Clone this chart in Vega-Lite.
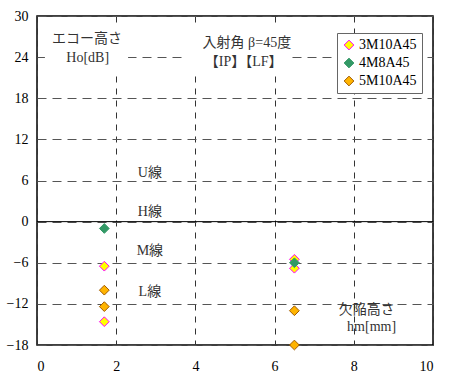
{
  "$schema": "https://vega.github.io/schema/vega-lite/v6.json",
  "autosize": {"type": "none"},
  "padding": {"left": 37, "top": 16, "right": 22, "bottom": 37},
  "width": 396,
  "height": 329,
  "background": "white",
  "config": {
    "view": {"stroke": "#000", "strokeWidth": 1.5},
    "font": "Liberation Serif, Noto Sans CJK JP",
    "axis": {
      "labelFont": "Liberation Serif",
      "labelFontSize": 14,
      "labelColor": "#000",
      "ticks": false,
      "domain": false,
      "title": null
    }
  },
  "datasets": {
    "points": [
      {"hm": 1.7, "ho": -6.5, "series": "3M10A45"},
      {"hm": 1.7, "ho": -14.6, "series": "3M10A45"},
      {"hm": 6.5, "ho": -5.5, "series": "3M10A45"},
      {"hm": 6.5, "ho": -6.8, "series": "3M10A45"},
      {"hm": 1.7, "ho": -1.0, "series": "4M8A45"},
      {"hm": 6.5, "ho": -6.0, "series": "4M8A45"},
      {"hm": 1.7, "ho": -10.0, "series": "5M10A45"},
      {"hm": 1.7, "ho": -12.4, "series": "5M10A45"},
      {"hm": 6.5, "ho": -13.0, "series": "5M10A45"},
      {"hm": 6.5, "ho": -18.0, "series": "5M10A45"}
    ],
    "boxes": [
      {"x1": 0.2, "x2": 2.3, "y1": 21.8, "y2": 28.7},
      {"x1": 3.75, "x2": 6.35, "y1": 21.8, "y2": 28.7}
    ],
    "notes": [
      {"x": 1.26, "y": 26.6, "text": "エコー高さ"},
      {"x": 1.28, "y": 23.9, "text": "Ho[dB]"},
      {"x": 5.3, "y": 26.0, "text": "入射角 β=45度"},
      {"x": 5.22, "y": 23.3, "text": "【IP】【LF】"},
      {"x": 2.85, "y": 7.1, "text": "U線"},
      {"x": 2.85, "y": 1.4, "text": "H線"},
      {"x": 2.85, "y": -4.3, "text": "M線"},
      {"x": 2.85, "y": -10.2, "text": "L線"},
      {"x": 8.33, "y": -12.9, "text": "欠陥高さ"},
      {"x": 8.45, "y": -15.4, "text": "hm[mm]"}
    ],
    "zero": [{"ho": 0}]
  },
  "layer": [
    {
      "data": {"name": "boxes"},
      "mark": {"type": "rect", "fill": "white", "stroke": null},
      "encoding": {
        "x": {"field": "x1", "type": "quantitative", "scale": {"domain": [0, 10], "nice": false},
          "axis": {"values": [0, 2, 4, 6, 8, 10], "grid": true, "gridColor": "#333", "gridDash": [6, 6], "gridWidth": 1, "labelPadding": 14}},
        "x2": {"field": "x2"},
        "y": {"field": "y1", "type": "quantitative", "scale": {"domain": [-18, 30], "nice": false, "zero": false},
          "axis": {"values": [-18, -12, -6, 0, 6, 12, 18, 24, 30], "grid": true, "gridColor": "#555", "gridDash": [9, 6], "gridWidth": 1, "labelPadding": 9}},
        "y2": {"field": "y2"}
      }
    },
    {
      "data": {"name": "zero"},
      "mark": {"type": "rule", "color": "#000", "strokeWidth": 1},
      "encoding": {"y": {"field": "ho", "type": "quantitative"}}
    },
    {
      "data": {"name": "notes"},
      "mark": {"type": "text", "fontSize": 14, "color": "#333", "align": "center", "baseline": "middle"},
      "encoding": {
        "x": {"field": "x", "type": "quantitative"},
        "y": {"field": "y", "type": "quantitative"},
        "text": {"field": "text"}
      }
    },
    {
      "data": {"name": "points"},
      "mark": {"type": "point", "shape": "diamond", "size": 95, "filled": true, "strokeWidth": 1, "opacity": 1},
      "encoding": {
        "x": {"field": "hm", "type": "quantitative"},
        "y": {"field": "ho", "type": "quantitative"},
        "fill": {
          "field": "series", "type": "nominal",
          "scale": {"domain": ["3M10A45", "4M8A45", "5M10A45"], "range": ["#ffff00", "#339966", "#ffb400"]},
          "legend": {
            "title": null, "orient": "none", "legendX": 300, "legendY": 17,
            "symbolType": "diamond", "symbolSize": 95, "symbolStrokeWidth": 1,
            "labelFont": "Liberation Serif", "labelFontSize": 14, "labelColor": "#000",
            "strokeColor": "#666", "fillColor": "white", "padding": 5, "rowPadding": 4, "labelOffset": 3
          }
        },
        "stroke": {
          "field": "series", "type": "nominal",
          "scale": {"domain": ["3M10A45", "4M8A45", "5M10A45"], "range": ["#ff00ff", "#339966", "#a05a00"]},
          "legend": null
        }
      }
    }
  ]
}
